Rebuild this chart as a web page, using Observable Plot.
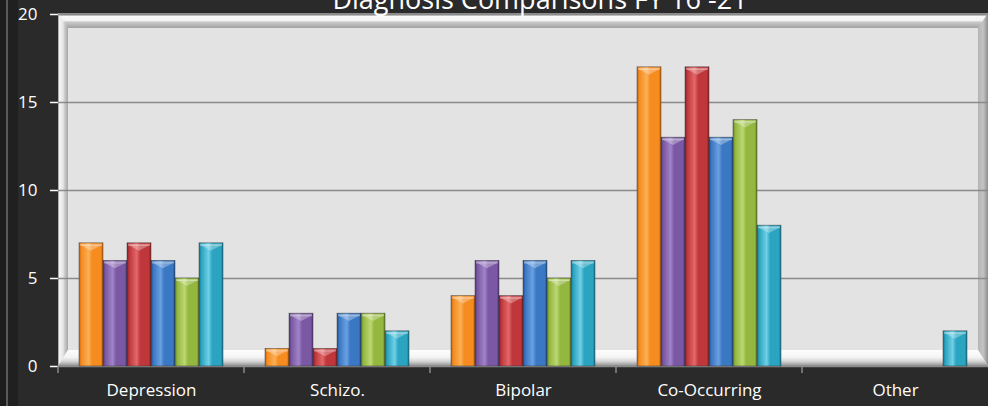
<!DOCTYPE html>
<html><head><meta charset="utf-8">
<script src="https://cdn.jsdelivr.net/npm/d3@7"></script>
<script src="https://cdn.jsdelivr.net/npm/@observablehq/plot@0.6"></script>
<style>
html,body{margin:0;padding:0;}
body{width:988px;height:406px;overflow:hidden;position:relative;
  background:linear-gradient(to right,#1d1d1d 0px,#1d1d1d 6px,#5a5a5a 6px,#5a5a5a 8px,#202020 8px,#202020 18px,#2a2a2a 18px);}
#title{position:absolute;left:0;width:1080px;top:-15px;text-align:center;color:#ffffff;
  font-family:'Open Sans',sans-serif;font-size:27px;line-height:1;white-space:nowrap;z-index:2;}
#chart{position:absolute;left:0;top:0;}
#chart svg g[aria-label="y-axis tick"], #chart svg .tick line{stroke:#8a8a8a;stroke-width:1.5;}
</style></head><body>
<div id="title">Diagnosis Comparisons FY 16 -21</div>
<div id="chart"></div>
<script>
const categories = ["Depression", "Schizo.", "Bipolar", "Co-Occurring", "Other"];
const series = ["FY 16", "FY 17", "FY 18", "FY 19", "FY 20", "FY 21"];
const depression = [7, 6, 7, 6, 5, 7];
const schizo = [1, 3, 1, 3, 3, 2];
const bipolar = [4, 6, 4, 6, 5, 6];
const coOccurring = [17, 13, 17, 13, 14, 8];
const other = [0, 0, 0, 0, 0, 2];
const yTicks = [0, 5, 10, 15, 20];
// per-series colours: [dark, base, light]
const seriesColors = [
  ["#c4620c", "#f68b1f", "#fbb055"],
  ["#523878", "#7a58a3", "#a083c8"],
  ["#8c1f23", "#c0373b", "#e2686a"],
  ["#21518f", "#3a78c3", "#6aa0e2"],
  ["#66862a", "#93b73f", "#bcd872"],
  ["#167891", "#2aa4c0", "#6fd0e6"]
];

const valuesByCategory = [depression, schizo, bipolar, coOccurring, other];
const rows = categories.flatMap((c, i) => series.map((s, j) => ({category: c, series: s, value: valuesByCategory[i][j]})));

const W = 988, H = 406;
const M = {top: 14, right: 0, bottom: 40, left: 58};

const plot = Plot.plot({
  width: W, height: H,
  marginTop: M.top, marginRight: M.right, marginBottom: M.bottom, marginLeft: M.left,
  style: {fontFamily: "'Open Sans', sans-serif", fontSize: "17px", color: "#ffffff", background: "transparent", overflow: "visible"},
  facet: {data: rows, x: "category"},
  fx: {domain: categories, padding: 0, label: null, tickSize: 0, tickPadding: 17},
  x: {domain: series, paddingInner: 0, paddingOuter: 0.73, axis: null},
  y: {domain: [0, 20], ticks: yTicks, tickSize: 8, tickPadding: 13, label: null},
  color: {domain: series, range: series.map((s, i) => `url(#bar${i})`)},
  marks: [
    Plot.ruleY(yTicks, {stroke: "#8a8a8a", strokeWidth: 1.5}),
    Plot.barY(rows, {x: "series", y: "value", fill: "series", stroke: "#2e2e2e", strokeOpacity: 0.55, strokeWidth: 0.8}),
    Plot.rectY(rows, {filter: d => d.value > 0, x: "series", y1: d => d.value - 0.45, y2: "value", fill: "white", fillOpacity: 0.3, insetLeft: 1, insetRight: 1, insetTop: 1, ariaLabel: "cap"})
  ]
});

const svg = d3.select(plot);
const defs = svg.insert("defs", ":first-child");
seriesColors.forEach(([dk, base, lt], i) => {
  const g = defs.append("linearGradient").attr("id", `bar${i}`).attr("x1", 0).attr("x2", 1).attr("y1", 0).attr("y2", 0);
  [[0, dk], [0.1, base], [0.4, lt], [0.55, base], [0.9, base], [1, dk]].forEach(([o, c]) => g.append("stop").attr("offset", o).attr("stop-color", c));
});
function grad(id, vertical, stops) {
  const g = defs.append("linearGradient").attr("id", id).attr("x1", 0).attr("y1", 0).attr("x2", vertical ? 0 : 1).attr("y2", vertical ? 1 : 0);
  stops.forEach(([o, c]) => g.append("stop").attr("offset", o).attr("stop-color", c));
}
grad("bgTop", true, [[0, "#8c8c8c"], [0.12, "#8c8c8c"], [0.2, "#fafafa"], [0.5, "#f4f4f4"], [0.6, "#cacaca"], [1, "#a2a2a2"]]);
grad("bgLeft", false, [[0, "#8c8c8c"], [0.15, "#f4f4f4"], [0.5, "#e6e6e6"], [0.7, "#c6c6c6"], [1, "#a6a6a6"]]);
grad("bgRight", false, [[0, "#b4b4b4"], [0.5, "#c4c4c4"], [0.85, "#a0a0a0"], [1, "#8a8a8a"]]);
grad("bgFloor", true, [[0, "#fdfdfd"], [0.45, "#f4f4f4"], [0.7, "#d6d6d6"], [0.85, "#b4b4b4"], [1, "#8a8a8a"]]);

// reshape each cap rect into the bevelled top of an Excel 3-D bar
const capRects = [];
plot.querySelectorAll('g[aria-label="cap"] rect, g[aria-label="rect"] rect').forEach(el => capRects.push(el));
capRects.forEach(el => {
  const x = +el.getAttribute("x"), y = +el.getAttribute("y"), w = +el.getAttribute("width"), h = +el.getAttribute("height");
  const ns = "http://www.w3.org/2000/svg";
  const top = document.createElementNS(ns, "rect");
  top.setAttribute("x", x); top.setAttribute("y", y); top.setAttribute("width", w); top.setAttribute("height", 2);
  top.setAttribute("fill", "white"); top.setAttribute("fill-opacity", 0.35);
  const tri = document.createElementNS(ns, "polygon");
  tri.setAttribute("points", `${x},${y + 1} ${x + w},${y + 1} ${x + w / 2},${y + h}`);
  tri.setAttribute("fill", "white"); tri.setAttribute("fill-opacity", 0.3);
  el.parentNode.insertBefore(top, el);
  el.parentNode.insertBefore(tri, el);
  el.parentNode.removeChild(el);
});

const yS = plot.scale("y");
const fxS = plot.scale("fx");
const x0 = M.left, x1 = W - M.right;
const y0 = Math.min(...yS.range), y1 = Math.max(...yS.range);
const bev = 10, bevTop = 14, floorH = 16;
const bg = svg.insert("g", "defs + *").attr("aria-label", "plot-area");
bg.append("rect").attr("x", x0).attr("y", y0 - 1).attr("width", x1 - x0).attr("height", y1 - y0 + 1).attr("fill", "#e3e3e3");
const pts = a => a.map(p => p.join(",")).join(" ");
bg.append("polygon").attr("points", pts([[x0, y0 - 1], [x1, y0 - 1], [x1 - bev, y0 + bevTop], [x0 + bev, y0 + bevTop]])).attr("fill", "url(#bgTop)");
bg.append("polygon").attr("points", pts([[x0, y0 - 1], [x0 + bev, y0 + bevTop], [x0 + bev, y1 - floorH], [x0, y1]])).attr("fill", "url(#bgLeft)");
bg.append("polygon").attr("points", pts([[x1, y0 - 1], [x1 - bev, y0 + bevTop], [x1 - bev, y1 - floorH], [x1, y1]])).attr("fill", "url(#bgRight)");
bg.append("polygon").attr("points", pts([[x0 + bev, y1 - floorH], [x1 - bev, y1 - floorH], [x1, y1], [x0, y1]])).attr("fill", "url(#bgFloor)");

// category boundary ticks below the axis
const step = (Math.max(...fxS.range) - Math.min(...fxS.range)) / categories.length;
const tg = svg.append("g").attr("aria-label", "fx-boundary-ticks").attr("stroke", "#8a8a8a").attr("stroke-width", 1.5);
categories.forEach((c, i) => {
  const bx = fxS.apply ? fxS.apply(c) : Math.min(...fxS.range) + i * step;
  tg.append("line").attr("x1", bx).attr("x2", bx).attr("y1", y1).attr("y2", y1 + 7);
});

document.getElementById("chart").appendChild(plot);
</script>
</body></html>
